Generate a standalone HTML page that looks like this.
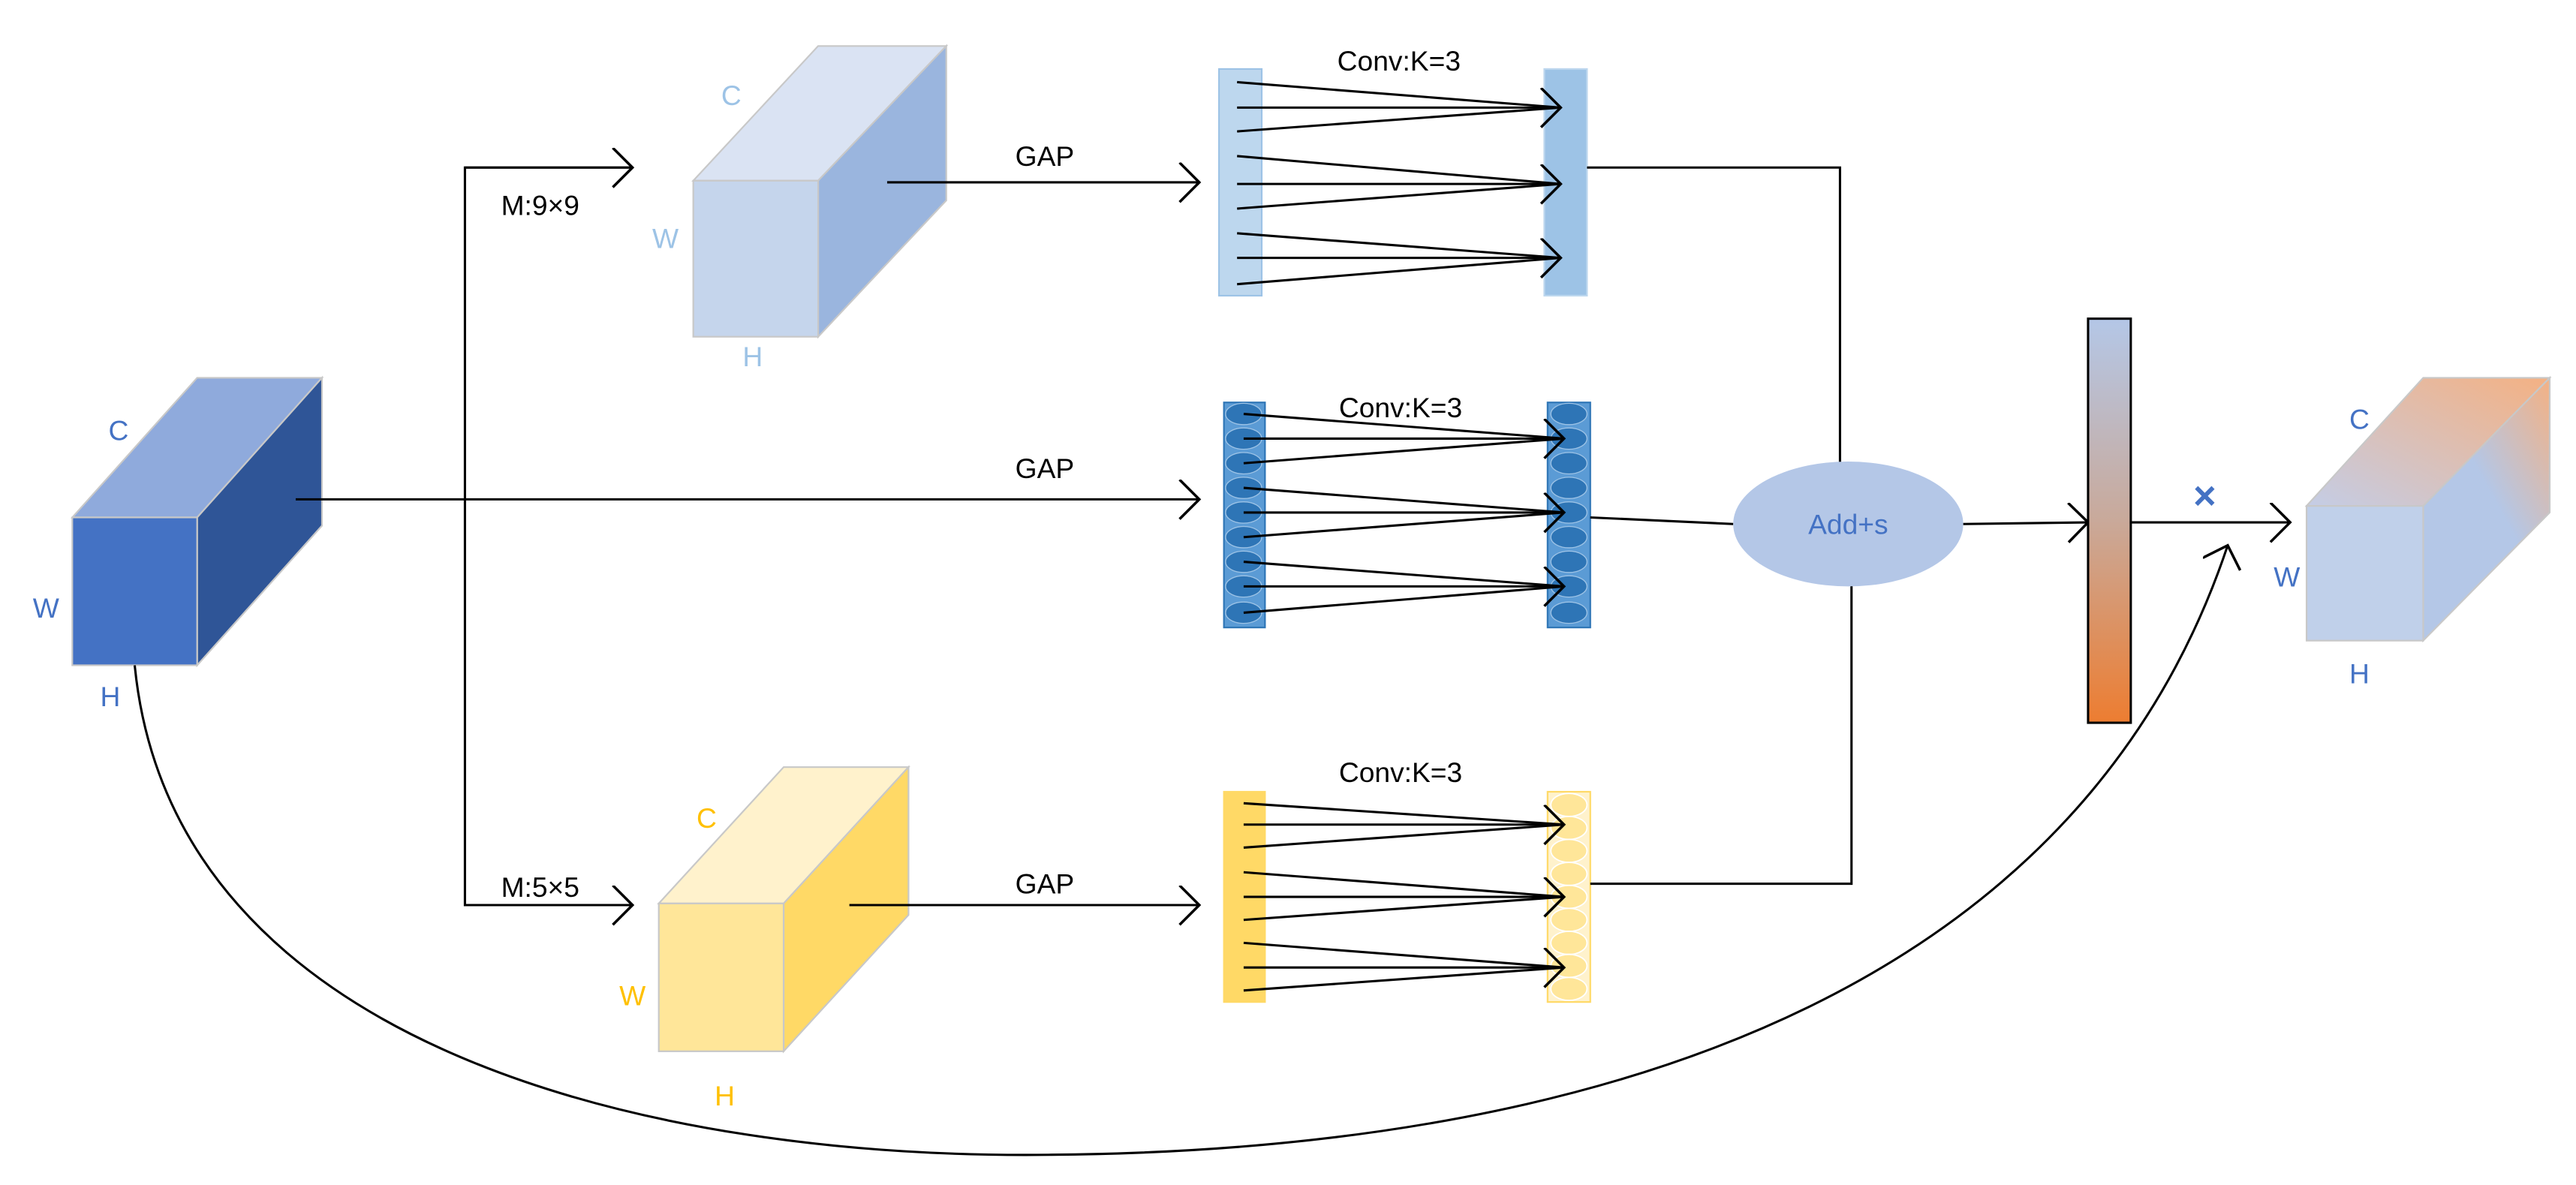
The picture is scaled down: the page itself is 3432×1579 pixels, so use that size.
<!DOCTYPE html>
<html><head><meta charset="utf-8"><style>html,body{margin:0;padding:0;background:#fff}svg{display:block}</style></head><body>
<svg width="3432" height="1579" viewBox="0 0 1568 721.4" xmlns="http://www.w3.org/2000/svg" font-family="Liberation Sans, sans-serif">
<defs>
<marker id="a" markerWidth="20" markerHeight="30" refX="14" refY="12" orient="auto" markerUnits="userSpaceOnUse">
<polyline points="2,0 14,12 2,24" fill="none" stroke="#000" stroke-width="1.6"/></marker>
<linearGradient id="bar" x1="0" y1="0" x2="0" y2="1"><stop offset="0" stop-color="#b4c7e7"/><stop offset="0.5" stop-color="#c9a99a"/><stop offset="1" stop-color="#ed7d31"/></linearGradient>
<linearGradient id="og" x1="1" y1="0" x2="0.3" y2="0.8"><stop offset="0" stop-color="#f4b183"/><stop offset="0.6" stop-color="#b4c7e7"/><stop offset="1" stop-color="#b4c7e7"/></linearGradient>
<linearGradient id="ot" x1="1" y1="0" x2="0" y2="1"><stop offset="0" stop-color="#f4b183"/><stop offset="1" stop-color="#c4cde6"/></linearGradient>
</defs>
<g stroke="#c8c8c8" stroke-width="1">
<polygon points="44,315 120,230 196,230 120,315" fill="#8faadc"/>
<polygon points="120,315 196,230 196,320 120,405" fill="#2f5597"/>
<rect x="44" y="315" width="76" height="90" fill="#4472c4"/>
<polygon points="422,110 498,28 576,28 498,110" fill="#dae3f3"/>
<polygon points="498,110 576,28 576,122 498,205" fill="#9ab5de"/>
<rect x="422" y="110" width="76" height="95" fill="#c5d5ec"/>
<polygon points="401,550 477,467 553,467 477,550" fill="#fff2cc"/>
<polygon points="477,550 553,467 553,557 477,640" fill="#ffd966"/>
<rect x="401" y="550" width="76" height="90" fill="#ffe699"/>
<polygon points="1404,308 1475,230 1552,230 1475,308" fill="url(#ot)"/>
<polygon points="1475,308 1552,230 1552,312 1475,390" fill="url(#og)"/>
<rect x="1404" y="308" width="71" height="82" fill="#c0d0ea"/>
</g>
<g font-size="17">
<text x="66" y="268" fill="#4472c4">C</text><text x="20" y="376" fill="#4472c4">W</text><text x="61" y="430" fill="#4472c4">H</text>
<text x="439" y="64" fill="#9dc3e6">C</text><text x="397" y="151" fill="#9dc3e6">W</text><text x="452" y="223" fill="#9dc3e6">H</text>
<text x="424" y="504" fill="#ffc000">C</text><text x="377" y="612" fill="#ffc000">W</text><text x="435" y="673" fill="#ffc000">H</text>
<text x="1430" y="261" fill="#4472c4">C</text><text x="1384" y="357" fill="#4472c4">W</text><text x="1430" y="416" fill="#4472c4">H</text>
<text x="305" y="131" fill="#000">M:9×9</text><text x="305" y="546" fill="#000">M:5×5</text>
<text x="618" y="101">GAP</text><text x="618" y="291">GAP</text><text x="618" y="544">GAP</text>
<text x="814" y="43">Conv:K=3</text><text x="815" y="254">Conv:K=3</text><text x="815" y="476">Conv:K=3</text>
</g>
<g>
<rect x="742" y="42" width="26" height="138" fill="#bdd7ee" stroke="#9dc3e6"/>
<rect x="940" y="42" width="26" height="138" fill="#9dc3e6" stroke="#bdd7ee"/>
<rect x="745" y="245" width="25" height="137" fill="#5b9bd5" stroke="#2e75b6"/>
<rect x="942" y="245" width="26" height="137" fill="#5b9bd5" stroke="#2e75b6"/>
<rect x="745" y="482" width="25" height="128" fill="#ffd966" stroke="#ffd966"/>
<rect x="942" y="482" width="26" height="128" fill="#fff2cc" stroke="#ffd966"/>
</g>
<g fill="#2e75b6" stroke="#9dc3e6" stroke-width="0.6">
<ellipse cx="757" cy="252" rx="11" ry="6.5"/><ellipse cx="757" cy="267" rx="11" ry="6.5"/><ellipse cx="757" cy="282" rx="11" ry="6.5"/><ellipse cx="757" cy="297" rx="11" ry="6.5"/><ellipse cx="757" cy="312" rx="11" ry="6.5"/><ellipse cx="757" cy="327" rx="11" ry="6.5"/><ellipse cx="757" cy="342" rx="11" ry="6.5"/><ellipse cx="757" cy="357" rx="11" ry="6.5"/><ellipse cx="757" cy="373" rx="11" ry="6.5"/>
<ellipse cx="955" cy="252" rx="11" ry="6.5"/><ellipse cx="955" cy="267" rx="11" ry="6.5"/><ellipse cx="955" cy="282" rx="11" ry="6.5"/><ellipse cx="955" cy="297" rx="11" ry="6.5"/><ellipse cx="955" cy="312" rx="11" ry="6.5"/><ellipse cx="955" cy="327" rx="11" ry="6.5"/><ellipse cx="955" cy="342" rx="11" ry="6.5"/><ellipse cx="955" cy="357" rx="11" ry="6.5"/><ellipse cx="955" cy="373" rx="11" ry="6.5"/>
</g>
<g fill="#ffe699" stroke="#fff" stroke-width="0.8">
<ellipse cx="955" cy="490" rx="11" ry="7"/><ellipse cx="955" cy="504" rx="11" ry="7"/><ellipse cx="955" cy="518" rx="11" ry="7"/><ellipse cx="955" cy="532" rx="11" ry="7"/><ellipse cx="955" cy="546" rx="11" ry="7"/><ellipse cx="955" cy="560" rx="11" ry="7"/><ellipse cx="955" cy="574" rx="11" ry="7"/><ellipse cx="955" cy="588" rx="11" ry="7"/><ellipse cx="955" cy="602" rx="11" ry="7"/>
</g>
<g fill="none" stroke="#000" stroke-width="1.4">
<line x1="180" y1="304" x2="730" y2="304" marker-end="url(#a)"/>
<polyline points="385,102 283,102 283,551 385,551" marker-end="url(#a)"/>
<line x1="283" y1="102" x2="385" y2="102" marker-end="url(#a)"/>
<line x1="540" y1="111" x2="730" y2="111" marker-end="url(#a)"/>
<line x1="517" y1="551" x2="730" y2="551" marker-end="url(#a)"/>
<g>
<line x1="753" y1="50" x2="950" y2="65.5"/><line x1="753" y1="65.5" x2="950" y2="65.5" marker-end="url(#a)"/><line x1="753" y1="80" x2="950" y2="65.5"/>
<line x1="753" y1="95" x2="950" y2="112"/><line x1="753" y1="112" x2="950" y2="112" marker-end="url(#a)"/><line x1="753" y1="127" x2="950" y2="112"/>
<line x1="753" y1="142" x2="950" y2="157"/><line x1="753" y1="157" x2="950" y2="157" marker-end="url(#a)"/><line x1="753" y1="173" x2="950" y2="157"/>
</g>
<g>
<line x1="757" y1="252" x2="952" y2="267"/><line x1="757" y1="267" x2="952" y2="267" marker-end="url(#a)"/><line x1="757" y1="282" x2="952" y2="267"/>
<line x1="757" y1="297" x2="952" y2="312"/><line x1="757" y1="312" x2="952" y2="312" marker-end="url(#a)"/><line x1="757" y1="327" x2="952" y2="312"/>
<line x1="757" y1="342" x2="952" y2="357"/><line x1="757" y1="357" x2="952" y2="357" marker-end="url(#a)"/><line x1="757" y1="373" x2="952" y2="357"/>
</g>
<g>
<line x1="757" y1="489" x2="952" y2="502"/><line x1="757" y1="502" x2="952" y2="502" marker-end="url(#a)"/><line x1="757" y1="516" x2="952" y2="502"/>
<line x1="757" y1="531" x2="952" y2="546"/><line x1="757" y1="546" x2="952" y2="546" marker-end="url(#a)"/><line x1="757" y1="560" x2="952" y2="546"/>
<line x1="757" y1="574" x2="952" y2="589"/><line x1="757" y1="589" x2="952" y2="589" marker-end="url(#a)"/><line x1="757" y1="603" x2="952" y2="589"/>
</g>
<polyline points="966,102 1120,102 1120,282"/>
<line x1="968" y1="315" x2="1055" y2="319"/>
<polyline points="968,538 1127,538 1127,356"/>
<line x1="1195" y1="319" x2="1271" y2="318" marker-end="url(#a)"/>
<line x1="1297" y1="318" x2="1394" y2="318" marker-end="url(#a)"/>
<path d="M82,405 C105,640 400,706 640,703 C1000,700 1270,590 1356,332" marker-end="url(#a)"/>
</g>
<ellipse cx="1125" cy="319" rx="70" ry="38" fill="#b4c7e7"/>
<text x="1125" y="325" font-size="17" fill="#4472c4" text-anchor="middle">Add+s</text>
<rect x="1271" y="194" width="26" height="246" fill="url(#bar)" stroke="#000" stroke-width="1.4"/>
<text x="1342" y="310" font-size="24" font-weight="bold" fill="#4472c4" text-anchor="middle">×</text>
</svg>
</body></html>
